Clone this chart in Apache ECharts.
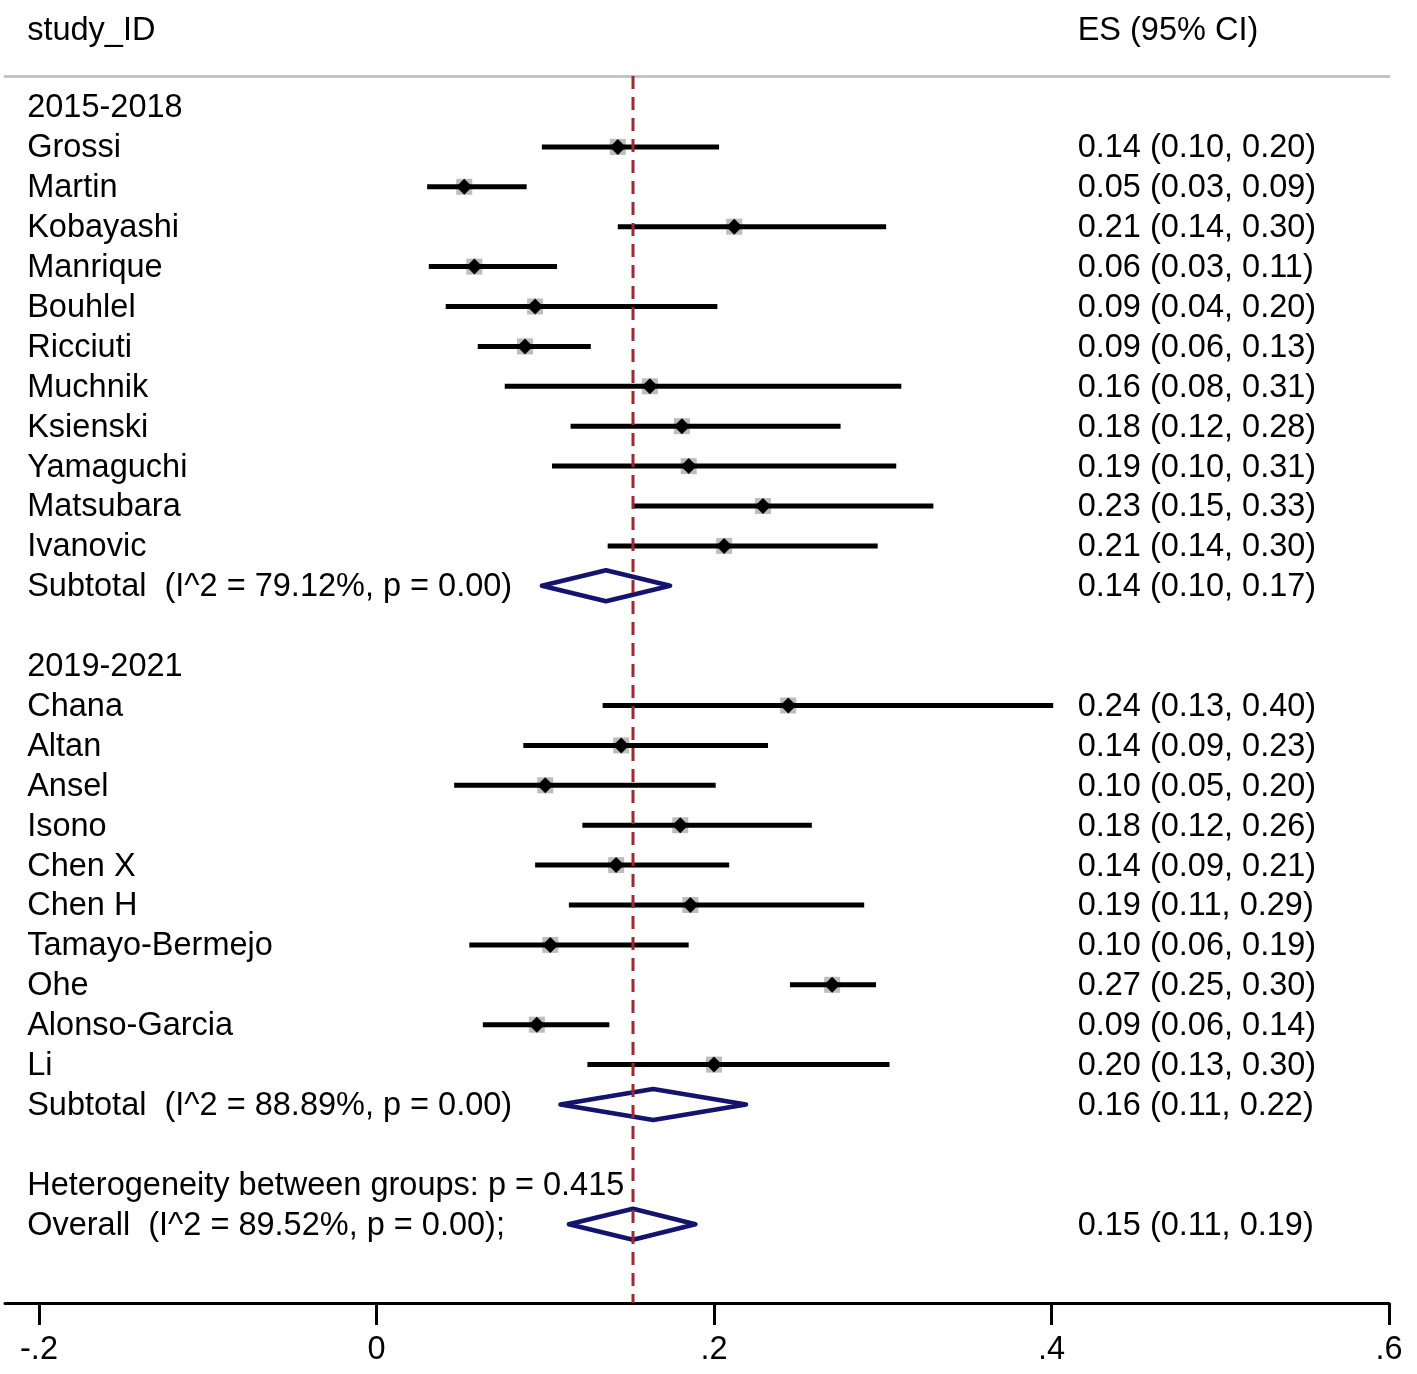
<!DOCTYPE html>
<html lang="en">
<head>
    <meta charset="UTF-8">
    <title>Forest plot</title>
    <script type="text/javascript" src="https://fastly.jsdelivr.net/npm/echarts@6.0.0/dist/echarts.min.js"></script>
    <style>
        html, body { margin: 0; padding: 0; background: #fff; }
        #forest { width: 1417px; height: 1374px; }
    </style>
</head>
<body>
<div id="forest"></div>
<script type="text/javascript">
    // ---- data ----
    var groupNames = ['2015-2018', '2019-2021'];

    var g1Studies = ['Grossi', 'Martin', 'Kobayashi', 'Manrique', 'Bouhlel', 'Ricciuti',
                     'Muchnik', 'Ksienski', 'Yamaguchi', 'Matsubara', 'Ivanovic'];
    var g1Es = [0.143, 0.052, 0.212, 0.058, 0.094, 0.088, 0.162, 0.181, 0.185, 0.229, 0.206];
    var g1Lo = [0.098, 0.030, 0.143, 0.031, 0.041, 0.060, 0.076, 0.115, 0.104, 0.152, 0.137];
    var g1Hi = [0.203, 0.089, 0.302, 0.107, 0.202, 0.127, 0.311, 0.275, 0.308, 0.330, 0.297];
    var g1Text = ['0.14 (0.10, 0.20)', '0.05 (0.03, 0.09)', '0.21 (0.14, 0.30)', '0.06 (0.03, 0.11)',
                  '0.09 (0.04, 0.20)', '0.09 (0.06, 0.13)', '0.16 (0.08, 0.31)', '0.18 (0.12, 0.28)',
                  '0.19 (0.10, 0.31)', '0.23 (0.15, 0.33)', '0.21 (0.14, 0.30)'];

    var g2Studies = ['Chana', 'Altan', 'Ansel', 'Isono', 'Chen X', 'Chen H', 'Tamayo-Bermejo',
                     'Ohe', 'Alonso-Garcia', 'Li'];
    var g2Es = [0.244, 0.145, 0.100, 0.180, 0.142, 0.186, 0.103, 0.270, 0.095, 0.200];
    var g2Lo = [0.134, 0.087, 0.046, 0.122, 0.094, 0.114, 0.055, 0.245, 0.063, 0.125];
    var g2Hi = [0.401, 0.232, 0.201, 0.258, 0.209, 0.289, 0.185, 0.296, 0.138, 0.304];
    var g2Text = ['0.24 (0.13, 0.40)', '0.14 (0.09, 0.23)', '0.10 (0.05, 0.20)', '0.18 (0.12, 0.26)',
                  '0.14 (0.09, 0.21)', '0.19 (0.11, 0.29)', '0.10 (0.06, 0.19)', '0.27 (0.25, 0.30)',
                  '0.09 (0.06, 0.14)', '0.20 (0.13, 0.30)'];

    var subLabels = ['Subtotal  (I^2 = 79.12%, p = 0.00)', 'Subtotal  (I^2 = 88.89%, p = 0.00)'];
    var subEs = [0.136, 0.164];
    var subLo = [0.098, 0.109];
    var subHi = [0.174, 0.219];
    var subText = ['0.14 (0.10, 0.17)', '0.16 (0.11, 0.22)'];

    var hetLabel = 'Heterogeneity between groups: p = 0.415';
    var overallLabel = 'Overall  (I^2 = 89.52%, p = 0.00);';
    var overallEs = 0.152, overallLo = 0.114, overallHi = 0.189;
    var overallText = '0.15 (0.11, 0.19)';

    var headLeft = 'study_ID', headRight = 'ES (95% CI)';
    var xTicks = [-0.2, 0, 0.2, 0.4, 0.6];

    // ---- build the row table ----
    var textX = -0.207;    // left column
    var esX = 0.4155;      // right column
    var labelRows = [];    // [row, label]
    var esRows = [];       // [row, text]
    var ciRows = [];       // [row, lo, es, hi]
    var diaRows = [];      // [row, lo, es, hi]
    var row = 0;
    labelRows.push([-1.95, headLeft]);
    esRows.push([-1.95, headRight]);

    function addGroup(name, studies, es, lo, hi, txt, gi) {
        labelRows.push([row, name]);
        row++;
        for (var i = 0; i < studies.length; i++) {
            labelRows.push([row, studies[i]]);
            esRows.push([row, txt[i]]);
            ciRows.push([row, lo[i], es[i], hi[i]]);
            row++;
        }
        labelRows.push([row, subLabels[gi]]);
        esRows.push([row, subText[gi]]);
        diaRows.push([row, subLo[gi], subEs[gi], subHi[gi]]);
        row += 2;
    }
    addGroup(groupNames[0], g1Studies, g1Es, g1Lo, g1Hi, g1Text, 0);
    addGroup(groupNames[1], g2Studies, g2Es, g2Lo, g2Hi, g2Text, 1);
    labelRows.push([row, hetLabel]);
    row++;
    labelRows.push([row, overallLabel]);
    esRows.push([row, overallText]);
    diaRows.push([row, overallLo, overallEs, overallHi]);

    var FONT = '"Liberation Sans", Arial, sans-serif';
    var FS = 32.5;

    var rowTop = 107, rowStep = 39.9;
    var yMin = (76 - rowTop) / rowStep, yMax = (1303 - rowTop) / rowStep;
    var xMin = -0.2 - 34 / 1687.5, xMax = 0.6;

    function ciItem(params, api) {
        var r = api.value(0);
        var a = api.coord([api.value(1), r]);
        var m = api.coord([api.value(2), r]);
        var b = api.coord([api.value(3), r]);
        return {
            type: 'group',
            children: [
                { type: 'rect', shape: { x: m[0] - 8, y: m[1] - 8, width: 16, height: 16 },
                  style: { fill: '#bdbdbd' } },
                { type: 'line', shape: { x1: a[0], y1: a[1], x2: b[0], y2: b[1] },
                  style: { stroke: '#000', lineWidth: 5 } },
                { type: 'polygon', shape: { points: [[m[0] - 8, m[1]], [m[0], m[1] - 8], [m[0] + 8, m[1]], [m[0], m[1] + 8]] },
                  style: { fill: '#000' } }
            ]
        };
    }

    function diamondItem(params, api) {
        var r = api.value(0);
        var a = api.coord([api.value(1), r]);
        var m = api.coord([api.value(2), r]);
        var b = api.coord([api.value(3), r]);
        var h = 15.5;
        return {
            type: 'polygon',
            shape: { points: [[a[0], a[1]], [m[0], m[1] - h], [b[0], b[1]], [m[0], m[1] + h]] },
            style: { fill: 'none', stroke: '#14146e', lineWidth: 4.5, lineJoin: 'round' }
        };
    }

    function textItem(xv, list) {
        return function (params, api) {
            var d = list[params.dataIndex];
            var p = api.coord([xv, d[0]]);
            return {
                type: 'text',
                x: p[0], y: p[1] + 1.5,
                style: { text: d[1], fill: '#000', fontSize: FS, fontFamily: FONT,
                         align: 'left', verticalAlign: 'middle' }
            };
        };
    }

    var chart = echarts.init(document.getElementById('forest'));
    var option = {
        animation: false,
        grid: { left: 5, right: 28, top: 76, bottom: 71 },
        xAxis: [{
            type: 'value',
            position: 'bottom',
            min: xMin,
            max: xMax,
            splitLine: { show: false },
            axisLine: { onZero: false, lineStyle: { color: '#000', width: 3 } },
            axisTick: { length: 22, lineStyle: { color: '#000', width: 3 }, customValues: xTicks },
            axisLabel: {
                customValues: xTicks, margin: 31, color: '#000', fontSize: FS, fontFamily: FONT,
                formatter: function (v) {
                    if (Math.abs(v) < 1e-9) return '0';
                    return (v < 0 ? '-' : '') + String(Math.abs(v)).replace(/^0/, '');
                }
            }
        }, {
            type: 'value',
            position: 'top',
            min: xMin,
            max: xMax,
            splitLine: { show: false },
            axisLine: { show: true, onZero: false, lineStyle: { color: '#c4c4c4', width: 3 } },
            axisTick: { show: false },
            axisLabel: { show: false }
        }],
        yAxis: {
            type: 'value',
            inverse: true,
            min: yMin,
            max: yMax,
            show: false
        },
        series: [{
            type: 'line',
            data: [[overallEs, yMin], [overallEs, yMax]],
            symbol: 'none',
            silent: true,
            lineStyle: { color: '#9b2a35', width: 3, type: [13, 8] }
        }, {
            type: 'custom',
            renderItem: ciItem,
            encode: { x: [1, 2, 3], y: 0 },
            data: ciRows
        }, {
            type: 'custom',
            renderItem: diamondItem,
            encode: { x: [1, 2, 3], y: 0 },
            data: diaRows
        }, {
            type: 'custom',
            renderItem: textItem(textX, labelRows),
            data: labelRows.map(function (d) { return [textX, d[0]]; }),
            encode: { x: 0, y: 1 }
        }, {
            type: 'custom',
            renderItem: textItem(esX, esRows),
            data: esRows.map(function (d) { return [esX, d[0]]; }),
            encode: { x: 0, y: 1 }
        }]
    };
    chart.setOption(option);
    window.onresize = function () { chart.resize(); };
</script>
</body>
</html>
